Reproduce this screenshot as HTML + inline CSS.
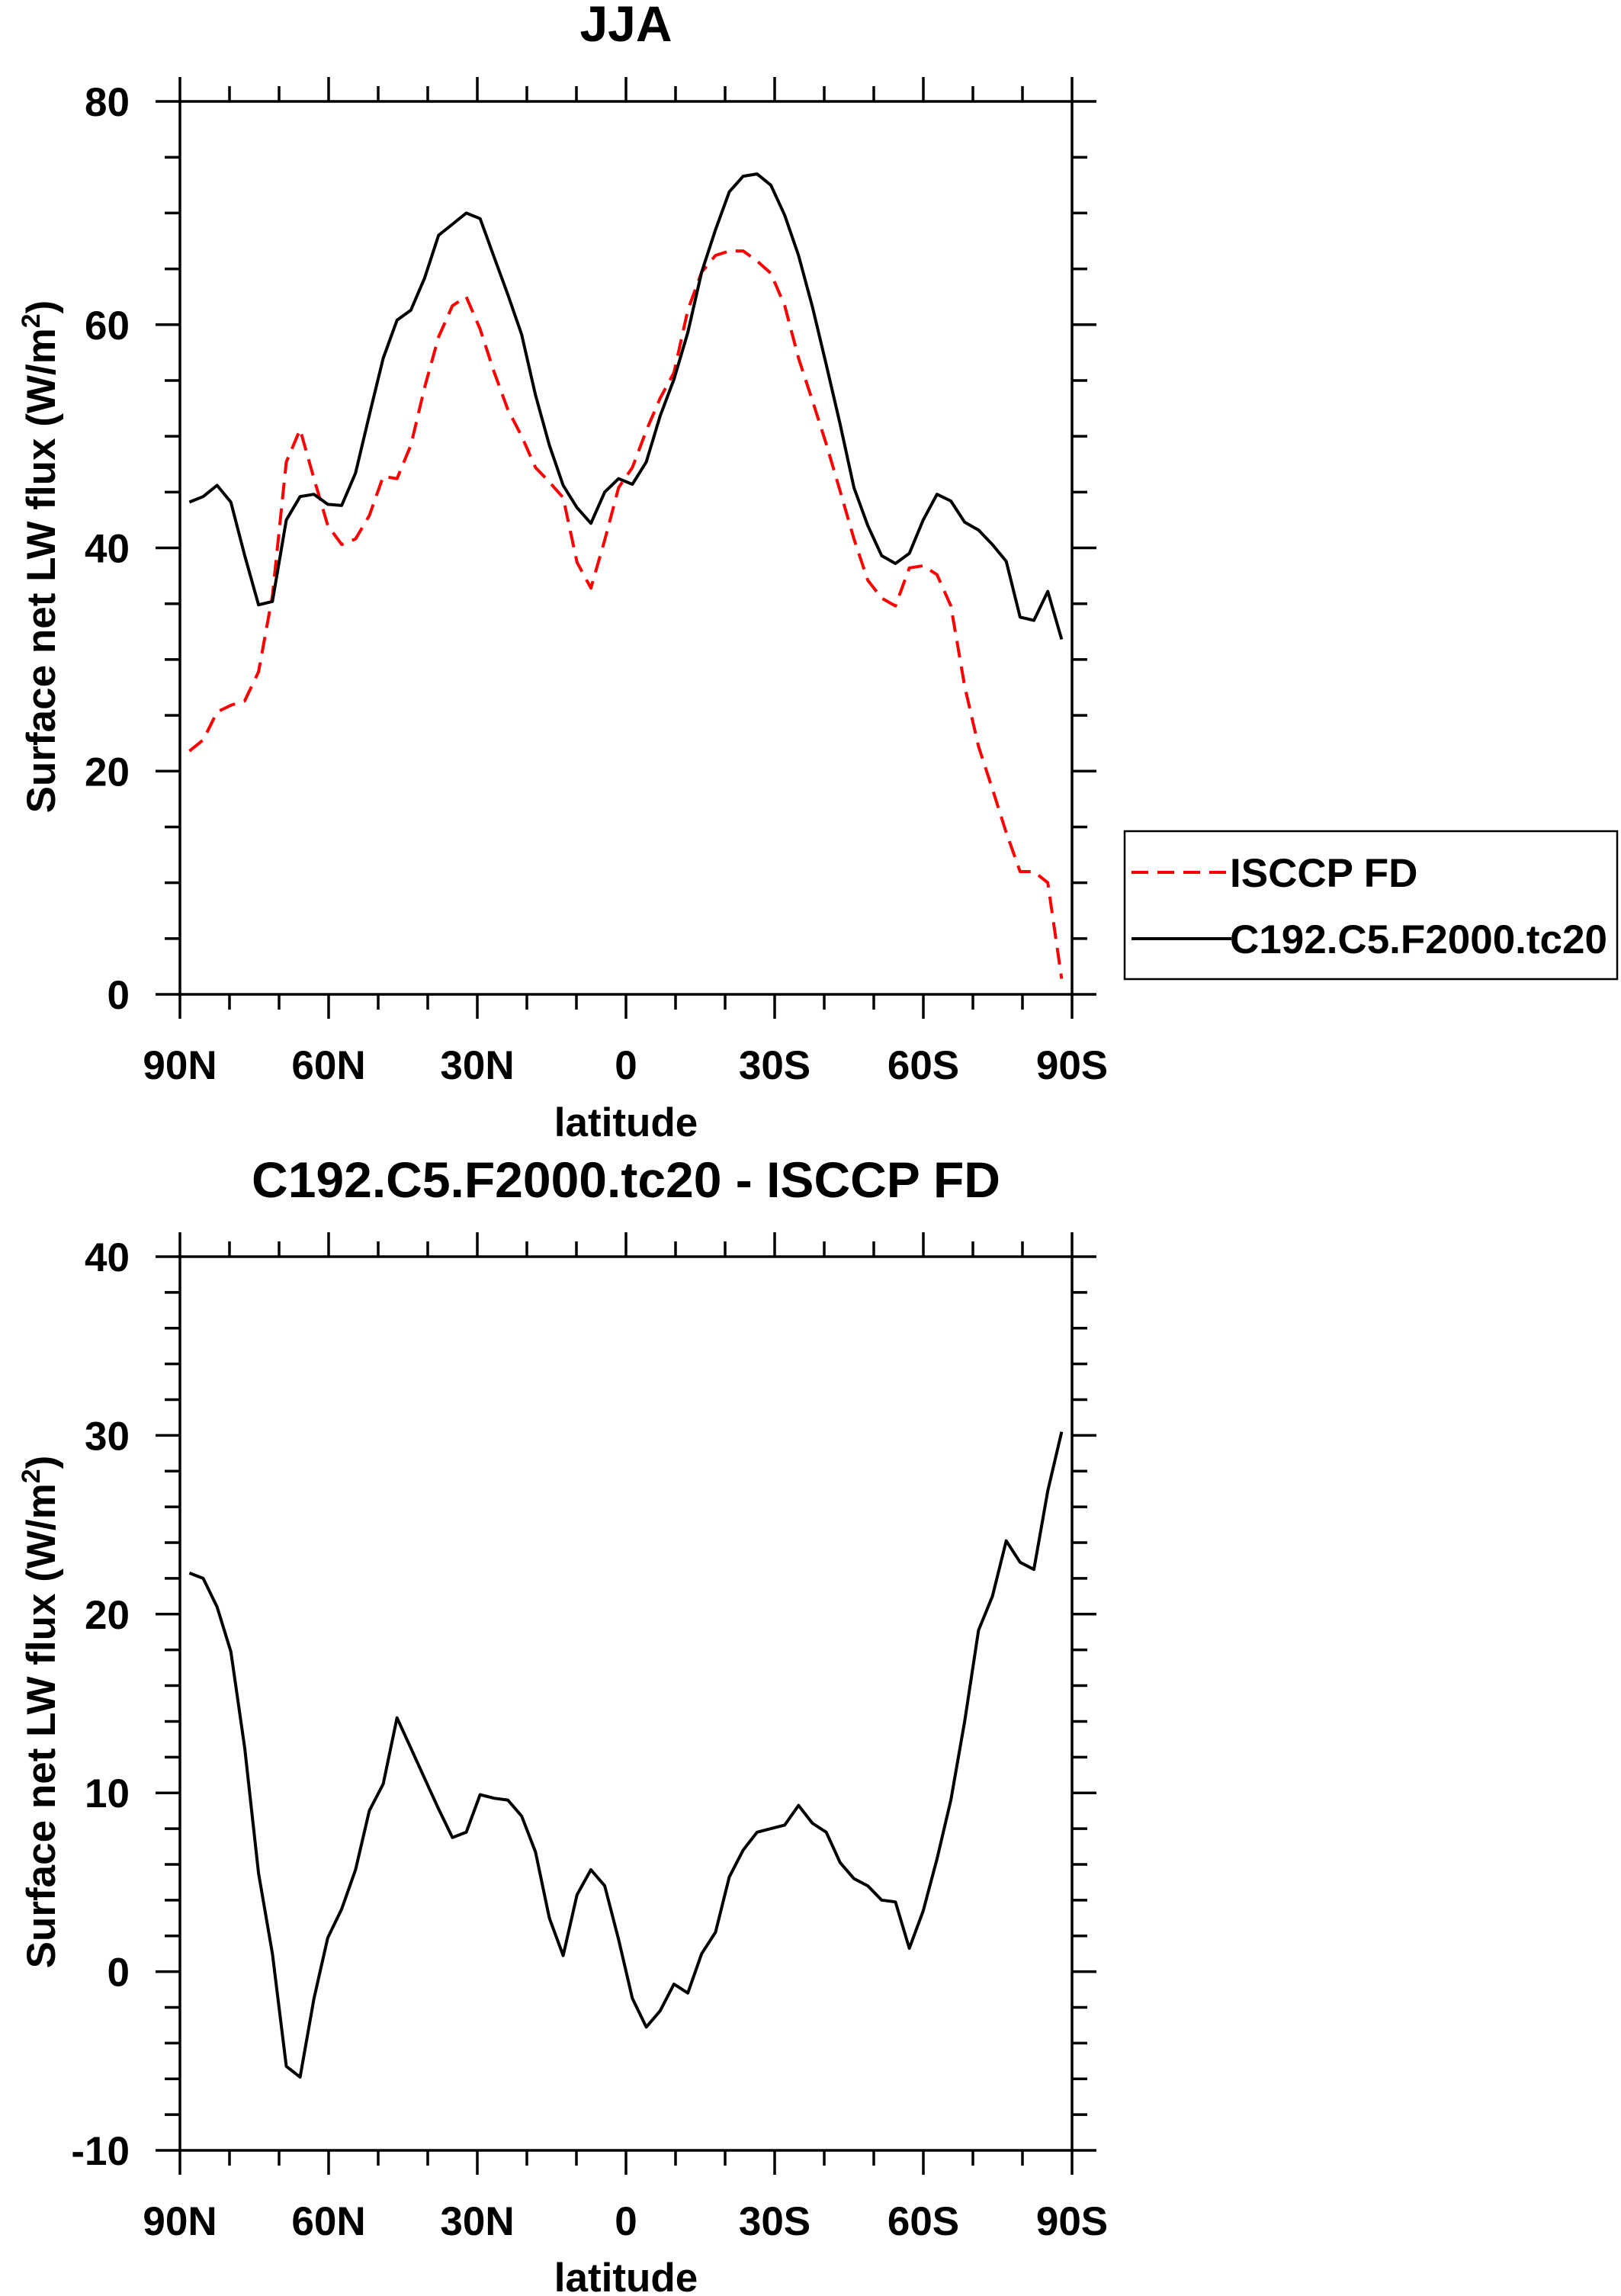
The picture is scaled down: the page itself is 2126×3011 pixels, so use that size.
<!DOCTYPE html>
<html><head><meta charset="utf-8"><style>
html,body{margin:0;padding:0;background:#fff;}
svg{display:block;}
text{font-family:"Liberation Sans",sans-serif;font-weight:bold;fill:#000;}
</style></head><body>
<svg id="chart" width="2126" height="3011" viewBox="0 0 2126 3011" xmlns="http://www.w3.org/2000/svg"></svg>
<script>
const lats = [];
const nPts = 64;
for (let i = 0; i < nPts; i++) lats.push(88.1 - i * (176 / 63));
const modelVals = [44.1,44.6,45.6,44.1,39.3,34.9,35.2,42.5,44.6,44.8,43.9,43.8,46.7,51.9,57.0,60.4,61.3,64.2,68.0,69.0,70.0,69.5,66.1,62.7,59.1,53.7,49.2,45.6,43.6,42.2,45.0,46.2,45.7,47.7,51.8,55.1,59.3,64.7,68.5,71.9,73.3,73.5,72.5,69.8,66.2,61.6,56.4,51.1,45.4,42.0,39.3,38.6,39.5,42.5,44.8,44.2,42.3,41.6,40.3,38.8,33.8,33.5,36.1,31.8];
const obsVals = [21.8,22.8,25.3,25.9,26.3,28.9,35.7,47.7,50.6,46.2,42.0,40.3,40.8,42.9,46.4,46.2,49.2,54.4,58.9,61.7,62.5,59.6,55.8,52.4,50.0,47.2,45.9,44.5,38.7,36.4,40.7,45.4,47.2,50.5,53.4,55.7,61.3,64.7,66.2,66.6,66.6,65.7,64.6,61.7,57.0,53.2,49.3,45.1,40.8,37.1,35.5,34.8,38.2,38.4,37.6,34.8,27.6,22.2,18.4,14.5,11.0,11.0,10.0,1.4];
const diffVals = [22.3,22.0,20.4,17.9,12.5,5.5,1.0,-5.3,-5.9,-1.5,1.9,3.5,5.7,9.0,10.5,14.2,12.5,10.8,9.1,7.5,7.8,9.9,9.7,9.6,8.7,6.7,3.0,0.9,4.3,5.7,4.8,1.8,-1.5,-3.1,-2.2,-0.7,-1.2,1.0,2.2,5.3,6.8,7.8,8.0,8.2,9.3,8.3,7.8,6.1,5.2,4.8,4.0,3.9,1.3,3.4,6.3,9.6,14.0,19.1,21.0,24.1,22.9,22.5,26.9,30.2];
const xTickVals = [90,60,30,0,-30,-60,-90];
const xTickLabels = ["90N","60N","30N","0","30S","60S","90S"];
const topYTicks = [0,20,40,60,80];
const botYTicks = [-10,0,10,20,30,40];

const svgEl = document.getElementById('chart');
const NS = 'http://www.w3.org/2000/svg';
function mk(tag, attrs, parent) {
  const e = document.createElementNS(NS, tag);
  for (const k in attrs) e.setAttribute(k, attrs[k]);
  (parent || svgEl).appendChild(e);
  return e;
}
const X0 = 236, X1 = 1406;
function xs(lat) { return X0 + (90 - lat) / 180 * (X1 - X0); }

function panel(name, yTop, yBot, vMin, vMax, yTicks, minorStep, titleText, titleY, xlabY, ytitleY) {
  const g = mk('g', {});
  
  
  const ys = v => yBot - (v - vMin) / (vMax - vMin) * (yBot - yTop);
  const fr = mk('rect', {x: X0, y: yTop, width: X1 - X0, height: yBot - yTop, fill: 'none', stroke: '#000', 'stroke-width': 3.5}, g);
  
  
  for (let lat = 90; lat >= -90; lat -= 10) {
    const major = lat % 30 === 0;
    const L = major ? 32 : 20;
    const x = xs(lat);
    mk('line', {x1: x, x2: x, y1: yTop, y2: yTop - L, stroke: '#000', 'stroke-width': 3.5}, g);
    mk('line', {x1: x, x2: x, y1: yBot, y2: yBot + L, stroke: '#000', 'stroke-width': 3.5}, g);
  }
  for (let v = vMin; v <= vMax + 1e-9; v += minorStep) {
    const major = yTicks.some(t => Math.abs(t - v) < 1e-6);
    const L = major ? 32 : 20;
    const y = ys(v);
    mk('line', {x1: X0, x2: X0 - L, y1: y, y2: y, stroke: '#000', 'stroke-width': 3.5}, g);
    mk('line', {x1: X1, x2: X1 + L, y1: y, y2: y, stroke: '#000', 'stroke-width': 3.5}, g);
  }
  yTicks.forEach(t => {
    const tx = mk('text', {x: 170, y: ys(t) + 19, 'text-anchor': 'end', 'font-size': 53}, g);
    tx.textContent = t;
    
    
  });
  xTickVals.forEach((t, i) => {
    const tx = mk('text', {x: xs(t), y: yBot + 111, 'text-anchor': 'middle', 'font-size': 53}, g);
    tx.textContent = xTickLabels[i];
    
    
  });
  const xl = mk('text', {x: 821, y: xlabY, 'text-anchor': 'middle', 'font-size': 53}, g);
  xl.textContent = 'latitude';
  
  
  const yt = mk('text', {x: 0, y: 0, 'text-anchor': 'middle', 'font-size': 53, transform: 'translate(72 ' + ytitleY + ') rotate(-90)'}, g);
  yt.innerHTML = 'Surface net LW flux (W/m<tspan dy="-20" font-size="34">2</tspan><tspan dy="20">)</tspan>';
  
  
  const ti = mk('text', {x: 821, y: titleY, 'text-anchor': 'middle', 'font-size': 66}, g);
  ti.textContent = titleText;
  
  
  return {g: g, ys: ys};
}

function series(p, vals, color, dash, name) {
  const d = vals.map((v, i) => (i ? 'L' : 'M') + xs(lats[i]).toFixed(1) + ' ' + p.ys(v).toFixed(1)).join(' ');
  const pa = mk('path', {d: d, fill: 'none', stroke: color, 'stroke-width': 4, 'stroke-linejoin': 'round'}, p.g);
  if (dash) pa.setAttribute('stroke-dasharray', dash);
  
  
}

const topPanel = panel('top-panel', 133, 1304, 0, 80, topYTicks, 5, 'JJA', 54, 1490, 730);
series(topPanel, obsVals, '#ff0000', '22 12', 'isccp-fd-line');
series(topPanel, modelVals, '#000', null, 'model-line');

const botPanel = panel('bottom-panel', 1648, 2820, -10, 40, botYTicks, 2, 'C192.C5.F2000.tc20 - ISCCP FD', 1570, 3005, 2245);
series(botPanel, diffVals, '#000', null, 'difference-line');

const lg = mk('g', {});


mk('rect', {x: 1475, y: 1090, width: 646, height: 194, fill: '#fff', stroke: '#000', 'stroke-width': 2.5}, lg);
const l1 = mk('line', {x1: 1484, x2: 1615, y1: 1144, y2: 1144, stroke: '#ff0000', 'stroke-width': 4, 'stroke-dasharray': '22 12'}, lg);


const t1 = mk('text', {x: 1613, y: 1163, 'font-size': 53}, lg);
t1.textContent = 'ISCCP FD';


const l2 = mk('line', {x1: 1484, x2: 1615, y1: 1231, y2: 1231, stroke: '#000', 'stroke-width': 4}, lg);


const t2 = mk('text', {x: 1613, y: 1250, 'font-size': 53}, lg);
t2.textContent = 'C192.C5.F2000.tc20';


</script>
</body></html>
